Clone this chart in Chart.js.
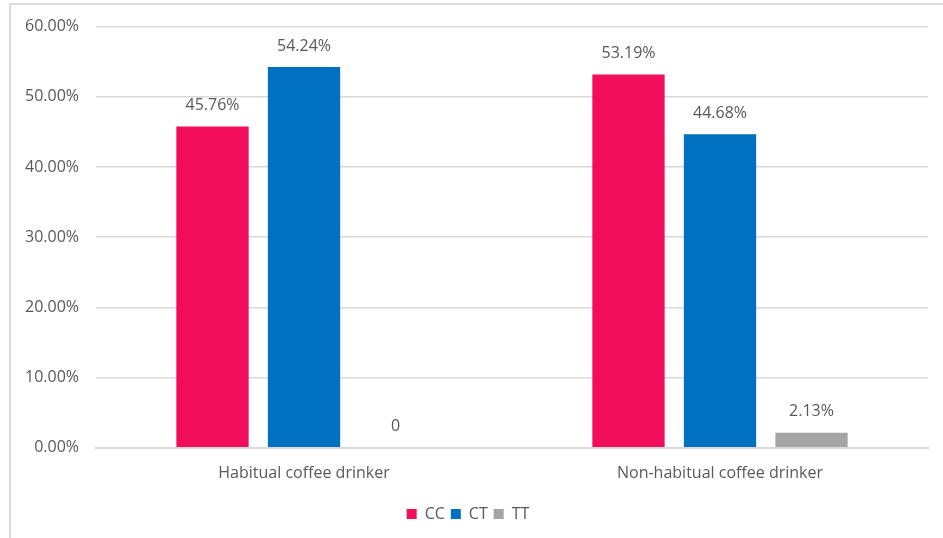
<!DOCTYPE html>
<html>
<head>
<meta charset="utf-8">
<script src="https://cdn.jsdelivr.net/npm/chart.js@4"></script>
<style>
  body { margin: 0; background: #fff; overflow: hidden; }
  .frame { position: absolute; left: 9px; top: 3px; width: 1000px; height: 600px; border: 2px solid #d9d9d9; }
  .wrap { position: absolute; left: 0; top: 0; width: 943px; height: 538px; }
</style>
</head>
<body>
<div class="frame"></div>
<div class="wrap"><canvas id="bar-chart"></canvas></div>
<script>
const groups = ['Habitual coffee drinker', 'Non-habitual coffee drinker'];
const ccValues = [45.76, 53.19];
const ctValues = [54.24, 44.68];
const ttValues = [0, 2.13];
const yTicks = [0, 10, 20, 30, 40, 50, 60];

const textColor = '#595959';
const fontFamily = '"Open Sans", sans-serif';
const fontSize = 16;

// value labels above each bar
const barLabels = {
  id: 'barLabels',
  afterDatasetsDraw(chart) {
    const ctx = chart.ctx;
    ctx.save();
    ctx.font = fontSize + 'px ' + fontFamily;
    ctx.fillStyle = textColor;
    ctx.textAlign = 'center';
    ctx.textBaseline = 'middle';
    chart.data.datasets.forEach((dataset, i) => {
      chart.getDatasetMeta(i).data.forEach((bar, j) => {
        const value = dataset.data[j];
        const text = value === 0 ? '0' : value.toFixed(2) + '%';
        ctx.fillText(text, bar.x, bar.y - 21);
      });
    });
    ctx.restore();
  }
};

new Chart(document.getElementById('bar-chart'), {
  type: 'bar',
  data: {
    labels: groups,
    datasets: [
      { label: 'CC', data: ccValues, backgroundColor: '#f20d5a' },
      { label: 'CT', data: ctValues, backgroundColor: '#0070c0' },
      { label: 'TT', data: ttValues, backgroundColor: '#a5a5a5' }
    ]
  },
  options: {
    responsive: true,
    maintainAspectRatio: false,
    animation: false,
    categoryPercentage: 0.66,
    barPercentage: 0.79,
    layout: {
      padding: { left: 8, right: 15, top: 21, bottom: 6 }
    },
    plugins: {
      legend: {
        position: 'bottom',
        labels: {
          boxWidth: 10,
          boxHeight: 10,
          padding: 6,
          color: textColor,
          font: { family: fontFamily, size: fontSize }
        }
      },
      tooltip: { enabled: false }
    },
    scales: {
      x: {
        grid: { display: false },
        border: { color: '#d9d9d9', width: 2 },
        afterFit: (scale) => { scale.height += 9; },
        ticks: {
          color: textColor,
          padding: 8,
          font: { family: fontFamily, size: fontSize }
        }
      },
      y: {
        min: 0,
        max: 60,
        afterBuildTicks: (axis) => {
          axis.ticks = yTicks.map(v => ({ value: v }));
        },
        grid: { color: '#d9d9d9', drawTicks: false, lineWidth: 1.5 },
        border: { display: false },
        ticks: {
          color: textColor,
          padding: 17,
          font: { family: fontFamily, size: fontSize },
          callback: (value) => value.toFixed(2) + '%'
        }
      }
    }
  },
  plugins: [barLabels]
});
</script>
</body>
</html>
